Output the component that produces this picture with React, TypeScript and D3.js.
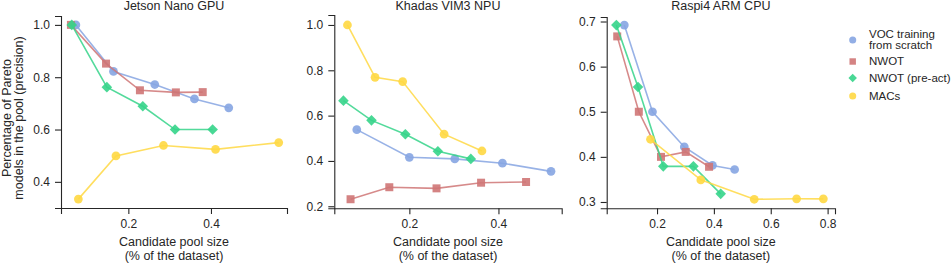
import React, { useEffect, useRef } from 'react';
import * as d3 from 'd3';

// series names + colours
const seriesNames = ['VOC training\nfrom scratch', 'NWOT', 'NWOT (pre-act)', 'MACs'];
const seriesColors = ['#86a5e2', '#cf7676', '#35d48a', '#ffd843'];
const seriesShapes = [d3.symbolCircle, d3.symbolSquare, d3.symbolSquare, d3.symbolCircle];
const seriesRotate = [0, 0, 45, 0];

const panelTitles = ['Jetson Nano GPU', 'Khadas VIM3 NPU', 'Raspi4 ARM CPU'];

// Jetson Nano GPU: [pool size, precision]
const jetsonVoc = [[0.073, 1.0], [0.164, 0.822], [0.264, 0.772], [0.36, 0.717], [0.443, 0.683]];
const jetsonNwot = [[0.061, 1.0], [0.146, 0.852], [0.228, 0.75], [0.315, 0.742], [0.38, 0.743]];
const jetsonPre = [[0.063, 1.0], [0.148, 0.762], [0.235, 0.689], [0.313, 0.6], [0.404, 0.6]];
const jetsonMacs = [[0.079, 0.334], [0.17, 0.499], [0.285, 0.539], [0.411, 0.524], [0.564, 0.55]];

// Khadas VIM3 NPU
const khadasVoc = [[0.082, 0.538], [0.2, 0.416], [0.302, 0.409], [0.409, 0.39], [0.518, 0.354]];
const khadasNwot = [[0.068, 0.231], [0.155, 0.284], [0.261, 0.279], [0.361, 0.304], [0.462, 0.307]];
const khadasPre = [[0.052, 0.666], [0.115, 0.579], [0.191, 0.518], [0.264, 0.443], [0.338, 0.409]];
const khadasMacs = [[0.061, 1.0], [0.123, 0.769], [0.185, 0.75], [0.278, 0.518], [0.363, 0.444]];

// Raspi4 ARM CPU
const raspiVoc = [[0.085, 0.692], [0.184, 0.5], [0.296, 0.422], [0.395, 0.381], [0.473, 0.372]];
const raspiNwot = [[0.06, 0.667], [0.136, 0.5], [0.214, 0.4], [0.301, 0.411], [0.383, 0.378]];
const raspiPre = [[0.057, 0.692], [0.133, 0.555], [0.222, 0.379], [0.328, 0.379], [0.424, 0.318]];
const raspiMacs = [[0.177, 0.439], [0.354, 0.349], [0.542, 0.306], [0.691, 0.307], [0.785, 0.307]];

const xTicks = [[0.2, 0.4], [0.2, 0.4], [0.2, 0.4, 0.6, 0.8]];
const yTicks = [[0.4, 0.6, 0.8, 1.0], [0.2, 0.4, 0.6, 0.8, 1.0], [0.3, 0.4, 0.5, 0.6, 0.7]];

const FONT = '"Liberation Sans", Arial, sans-serif';
const markerSize = [60, 64, 56, 60];

export default function App() {
  const ref = useRef<SVGSVGElement>(null);

  useEffect(() => {
    const svg = d3.select(ref.current);
    svg.selectAll('*').remove();

    const panels = [
      { data: [jetsonVoc, jetsonNwot, jetsonPre, jetsonMacs], xd: [0.037, 0.584], xr: [61, 287], yd: [0.3, 1.034], yr: [208, 16] },
      { data: [khadasVoc, khadasNwot, khadasPre, khadasMacs], xd: [0.0315, 0.542], xr: [334.3, 561.7], yd: [0.191, 1.044], yr: [208.3, 15] },
      { data: [raspiVoc, raspiNwot, raspiPre, raspiMacs], xd: [0.023, 0.826], xr: [606.7, 835], yd: [0.286, 0.71], yr: [208.3, 17] },
    ];

    panels.forEach((p, i) => {
      const x = d3.scaleLinear().domain(p.xd).range(p.xr);
      const y = d3.scaleLinear().domain(p.yd).range(p.yr);
      const g = svg.append('g');

      const xAxis = g.append('g')
        .attr('transform', `translate(0, ${p.yr[0]})`)
        .call(d3.axisBottom(x).tickValues(xTicks[i]).tickFormat(d3.format('.1f')).tickSizeOuter(0).tickSize(6).tickPadding(5.5));
      const yAxis = g.append('g')
        .attr('transform', `translate(${p.xr[0]}, 0)`)
        .call(d3.axisLeft(y).tickValues(yTicks[i]).tickFormat(d3.format('.1f')).tickSizeOuter(0).tickSize(6).tickPadding(5));
      [xAxis, yAxis].forEach((a) => {
        a.selectAll('path, line').attr('stroke', '#262626').attr('stroke-width', 1.1);
        a.selectAll('text').attr('fill', '#262626').style('font-family', FONT).style('font-size', '12px');
      });

      g.append('text')
        .attr('x', (p.xr[0] + p.xr[1]) / 2).attr('y', 10)
        .attr('text-anchor', 'middle')
        .style('font-family', FONT).style('font-size', '12.5px').attr('fill', '#262626')
        .text(panelTitles[i]);

      const xl = g.append('text')
        .attr('text-anchor', 'middle')
        .style('font-family', FONT).style('font-size', '12.5px').attr('fill', '#262626');
      xl.append('tspan').attr('x', (p.xr[0] + p.xr[1]) / 2).attr('y', 246).text('Candidate pool size');
      xl.append('tspan').attr('x', (p.xr[0] + p.xr[1]) / 2).attr('y', 259.5).text('(% of the dataset)');

      const line = d3.line<number[]>().x((d) => x(d[0])).y((d) => y(d[1]));
      p.data.forEach((s, k) => {
        g.append('path').datum(s)
          .attr('d', line)
          .attr('fill', 'none')
          .attr('stroke', seriesColors[k])
          .attr('stroke-width', 1.6)
          .attr('opacity', 0.85);
        g.selectAll(null).data(s).enter().append('path')
          .attr('transform', (d) => `translate(${x(d[0])}, ${y(d[1])}) rotate(${seriesRotate[k]})`)
          .attr('d', d3.symbol().type(seriesShapes[k]).size(markerSize[k])())
          .attr('fill', seriesColors[k])
          .attr('opacity', 0.9);
      });
    });

    // y axis label
    const yl = svg.append('text')
      .attr('text-anchor', 'middle')
      .attr('transform', 'translate(0, 118) rotate(-90)')
      .style('font-family', FONT).style('font-size', '12.5px').attr('fill', '#262626');
    yl.append('tspan').attr('x', 0).attr('y', 10.5).text('Percentage of Pareto');
    yl.append('tspan').attr('x', 0).attr('y', 23).text('models in the pool (precision)');

    // legend
    const legendY = [40, 61.5, 78, 96];
    const legend = svg.append('g');
    seriesNames.forEach((name, k) => {
      legend.append('path')
        .attr('transform', `translate(852.7, ${legendY[k]}) rotate(${seriesRotate[k]})`)
        .attr('d', d3.symbol().type(seriesShapes[k]).size(markerSize[k] * 0.65)())
        .attr('fill', seriesColors[k])
        .attr('opacity', 0.9);
      const lines = name.split('\n');
      const t = legend.append('text')
        .style('font-family', FONT).style('font-size', '11.5px').attr('fill', '#262626');
      lines.forEach((ln, j) => {
        t.append('tspan')
          .attr('x', 869)
          .attr('y', (lines.length === 2 ? legendY[k] - 2.5 : legendY[k] + 3.5) + j * 11.5)
          .text(ln);
      });
    });
  }, []);

  return (
    <svg ref={ref} width={951} height={263}
      style={{ position: 'absolute', left: 0, top: 0, background: '#fff' }} />
  );
}
